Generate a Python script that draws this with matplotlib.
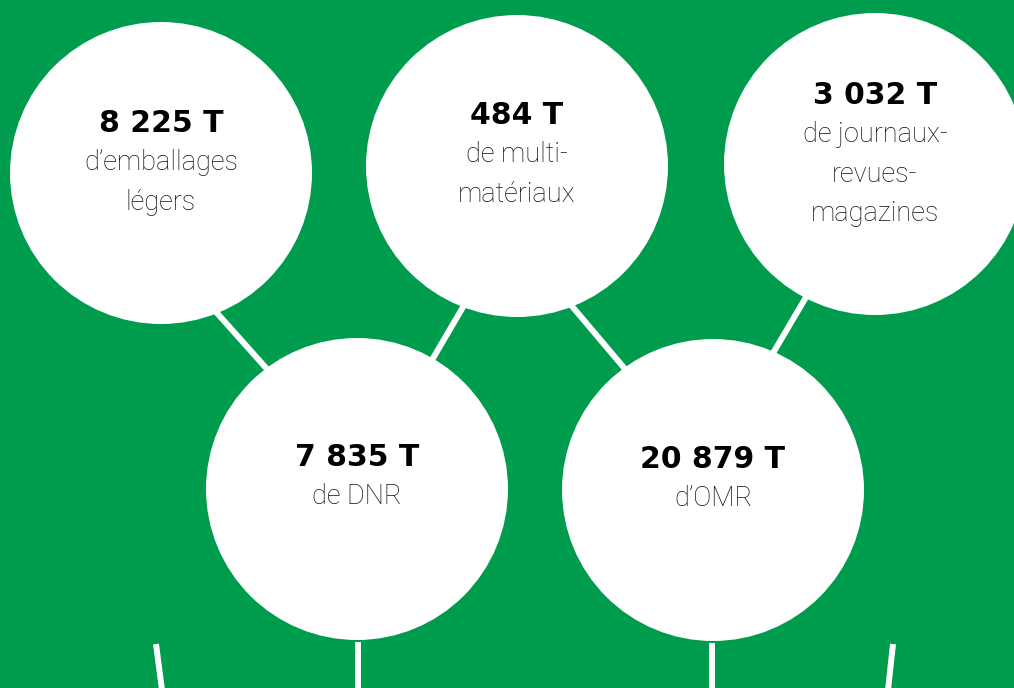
import matplotlib.pyplot as plt
from matplotlib.patches import Circle

# data
values = [8225, 484, 3032, 7835, 20879]
labels = ["d\u2019emballages\nlégers", "de multi-\nmatériaux", "de journaux-\nrevues-\nmagazines",
          "de DNR", "d\u2019OMR"]

# layout (pixel coords, y downwards)
centers = [(161, 173), (517, 166), (875, 164), (357, 489), (713, 490)]
radius = 151
number_y = [123, 115, 95, 457, 459]
links = [((200, 294), (275, 378)), ((470, 295), (425, 372)),
         ((560, 292), (636, 382)), ((812, 287), (766, 365))]
bottom_lines = [((156, 644), (162, 690)), ((358, 642), (358, 690)),
                ((712, 643), (712, 690)), ((893, 644), (888, 690))]

green = "#009c4d"

fig = plt.figure(figsize=(10.14, 6.88), dpi=100)
fig.patch.set_facecolor(green)
ax = fig.add_axes([0, 0, 1, 1])
ax.set_facecolor(green)
ax.set_xlim(0, 1014)
ax.set_ylim(688, 0)
ax.set_aspect("equal")
ax.axis("off")

for (x0, y0), (x1, y1) in links + bottom_lines:
    ax.plot([x0, x1], [y0, y1], color="white", lw=4.3, solid_capstyle="butt", zorder=1)

for (cx, cy), v, lab, ny in zip(centers, values, labels, number_y):
    ax.add_patch(Circle((cx, cy), radius, facecolor="white", edgecolor="none", zorder=2))
    txt = f"{v:,}".replace(",", " ") + " T"
    ax.text(cx, ny, txt, ha="center", va="center", fontsize=21.5,
            fontweight="bold", family="DejaVu Sans", color="black", zorder=3)
    ax.text(cx, ny + 26, lab, ha="center", va="top", fontsize=19.5,
            fontweight="light", family="Roboto", color="#111111",
            linespacing=1.6, zorder=3)

fig.savefig("out.png", dpi=100, facecolor=green)
